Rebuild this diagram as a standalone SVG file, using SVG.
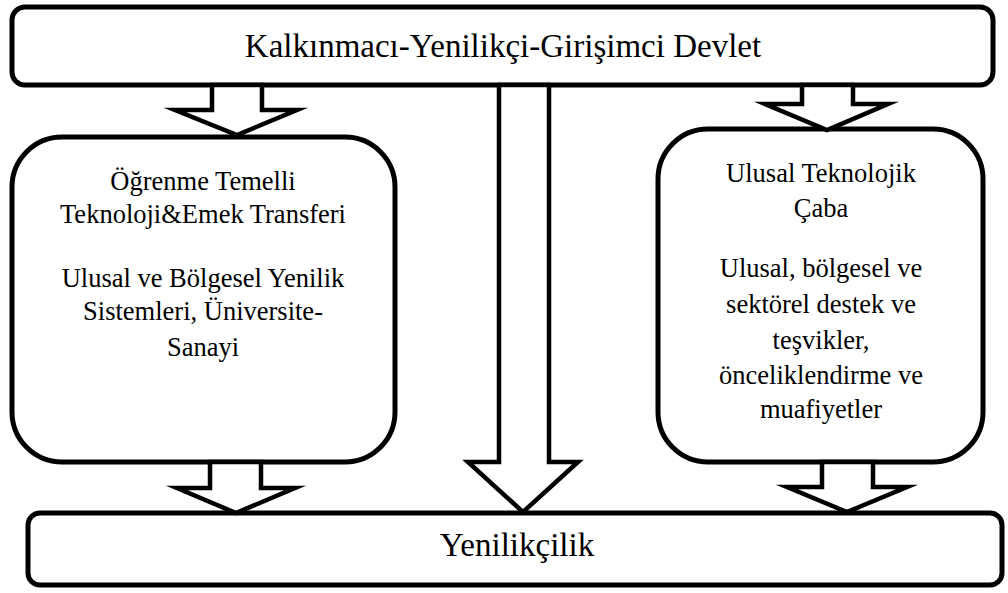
<svg xmlns="http://www.w3.org/2000/svg" width="1008" height="593" viewBox="0 0 1008 593">
<defs>
<rect id="bg" x="0" y="0" width="1008" height="593" fill="#fff"/>
</defs>
<use href="#bg"/>
<g fill="#fff" stroke="#000" stroke-width="5">
<rect id="box-top" x="12" y="7" width="981" height="78" rx="13"/>
<rect id="box-left" x="12" y="137" width="383" height="325" rx="50"/>
<rect id="box-right" x="658" y="129" width="325" height="333" rx="50"/>
<rect id="box-bottom" x="28" y="513" width="974" height="72" rx="12"/>
</g>
<g font-family="Liberation Serif, serif" text-anchor="middle" fill="#000">
<g id="node-devlet" font-size="33">
<text x="503" y="57">Kalk&#305;nmac&#305;-Yenilik&#231;i-Giri&#351;imci Devlet</text>
</g>
<g id="node-ogrenme" font-size="26.5">
<text x="203" y="190">&#214;&#287;renme Temelli</text>
<text x="203" y="223">Teknoloji&amp;Emek Transferi</text>
<text x="203" y="287">Ulusal ve B&#246;lgesel Yenilik</text>
<text x="203" y="320">Sistemleri, &#220;niversite-</text>
<text x="203" y="356">Sanayi</text>
</g>
<g id="node-ulusal" font-size="26.5">
<text x="821" y="182">Ulusal Teknolojik</text>
<text x="821" y="217">&#199;aba</text>
<text x="821" y="277">Ulusal, b&#246;lgesel ve</text>
<text x="821" y="313">sekt&#246;rel destek ve</text>
<text x="821" y="349">te&#351;vikler,</text>
<text x="821" y="384">&#246;nceliklendirme ve</text>
<text x="821" y="418">muafiyetler</text>
</g>
<g id="node-yenilikcilik" font-size="33">
<text x="517" y="556">Yenilik&#231;ilik</text>
</g>
</g>
<g id="connectors" fill="#fff" stroke="#000" stroke-width="4.5" stroke-linejoin="miter" stroke-miterlimit="10">
<polygon points="212,85 262,85 262,110 297,110 237,135 175,110 212,110"/>
<polygon points="802,85 853,85 853,104 888,104 827,130 765,104 802,104"/>
<polygon points="499,85 549,85 549,462 578,462 523,512 468,462 499,462"/>
<polygon points="210,462 261,462 261,488 295,488 236,513 177,488 210,488"/>
<polygon points="822,462 873,462 873,487 907,487 847,512 787,487 822,487"/>
</g>
</svg>
